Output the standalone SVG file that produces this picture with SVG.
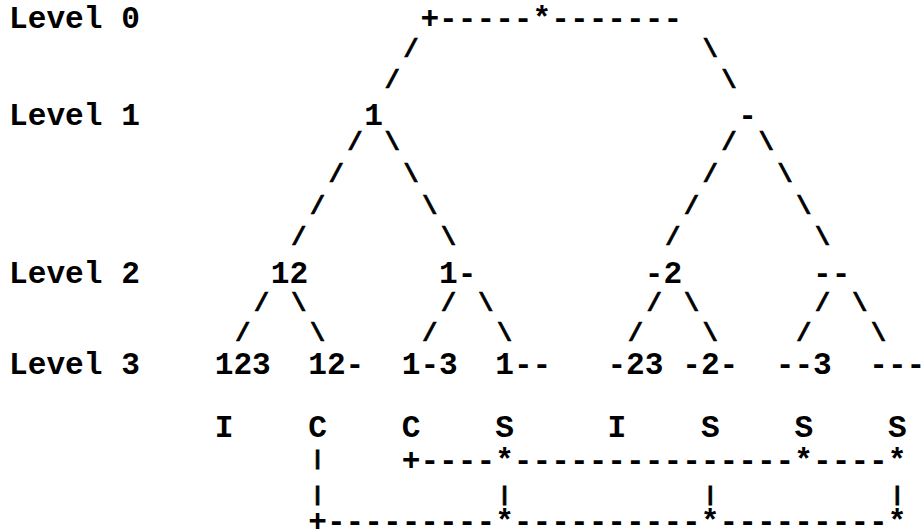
<svg xmlns="http://www.w3.org/2000/svg" width="921" height="532" viewBox="0 0 921 532">
<style>
  text { font-family: "Liberation Mono", "Courier New", monospace; font-size: 31.16px; font-weight: bold; fill: #000; white-space: pre; }
  .sl { font-size: 25px; text-anchor: middle; stroke: #000; stroke-width: 0.7px; }
  .pipe { font-size: 21px; text-anchor: middle; stroke: #000; stroke-width: 0.8px; }
</style>
<rect width="921" height="532" fill="#fff"/>
<g id="labels">
  <text id="lv0" x="9" y="28">Level 0</text>
  <text id="lv1" x="9" y="125">Level 1</text>
  <text id="lv2" x="9" y="283">Level 2</text>
  <text id="lv3" x="9" y="374">Level 3</text>
</g>
<g id="node-root"><text x="420.4" y="28">+-----*-------</text></g>
<g id="node-1"><text x="364.3" y="125">1</text></g>
<g id="node-dash"><text x="738.3" y="125">-</text></g>
<g id="node-12"><text x="270.8" y="283">12</text></g>
<g id="node-1d"><text x="439.1" y="283">1-</text></g>
<g id="node-d2"><text x="644.8" y="283">-2</text></g>
<g id="node-dd"><text x="813.1" y="283">--</text></g>
<g id="node-123"><text x="214.7" y="374">123</text></g>
<g id="node-12d"><text x="308.2" y="374">12-</text></g>
<g id="node-1d3"><text x="401.7" y="374">1-3</text></g>
<g id="node-1dd"><text x="495.2" y="374">1--</text></g>
<g id="node-d23"><text x="607.4" y="374">-23</text></g>
<g id="node-d2d"><text x="682.2" y="374">-2-</text></g>
<g id="node-dd3"><text x="775.7" y="374">--3</text></g>
<g id="node-ddd"><text x="869.2" y="374">---</text></g>
<g id="marks">
  <text x="214.7" y="437">I</text>
  <text x="308.2" y="437">C</text>
  <text x="401.7" y="437">C</text>
  <text x="495.2" y="437">S</text>
  <text x="607.4" y="437">I</text>
  <text x="700.9" y="437">S</text>
  <text x="794.4" y="437">S</text>
  <text x="887.9" y="437">S</text>
</g>
<g id="connectors">
  <text class="sl" x="411.05" y="56.5">/</text><text class="sl" x="710.25" y="56.5">\</text>
  <text class="sl" x="392.35" y="87.5">/</text><text class="sl" x="728.95" y="87.5">\</text>
  <text class="sl" x="354.95" y="150">/</text><text class="sl" x="392.35" y="150">\</text><text class="sl" x="728.95" y="150">/</text><text class="sl" x="766.35" y="150">\</text>
  <text class="sl" x="336.25" y="181.5">/</text><text class="sl" x="411.05" y="181.5">\</text><text class="sl" x="710.25" y="181.5">/</text><text class="sl" x="785.05" y="181.5">\</text>
  <text class="sl" x="317.55" y="213.5">/</text><text class="sl" x="429.75" y="213.5">\</text><text class="sl" x="691.55" y="213.5">/</text><text class="sl" x="803.75" y="213.5">\</text>
  <text class="sl" x="298.85" y="245">/</text><text class="sl" x="448.45" y="245">\</text><text class="sl" x="672.85" y="245">/</text><text class="sl" x="822.45" y="245">\</text>
  <text class="sl" x="261.45" y="311">/</text><text class="sl" x="298.85" y="311">\</text><text class="sl" x="448.45" y="311">/</text><text class="sl" x="485.85" y="311">\</text>
  <text class="sl" x="654.15" y="311">/</text><text class="sl" x="691.55" y="311">\</text><text class="sl" x="822.45" y="311">/</text><text class="sl" x="859.85" y="311">\</text>
  <text class="sl" x="242.75" y="341">/</text><text class="sl" x="317.55" y="341">\</text><text class="sl" x="429.75" y="341">/</text><text class="sl" x="504.55" y="341">\</text>
  <text class="sl" x="635.45" y="341">/</text><text class="sl" x="710.25" y="341">\</text><text class="sl" x="803.75" y="341">/</text><text class="sl" x="878.55" y="341">\</text>
  <text class="pipe" x="317.55" y="465">|</text>
  <text x="401.7" y="470">+----*---------------*----*</text>
  <text class="pipe" x="317.55" y="501">|</text><text class="pipe" x="504.55" y="501">|</text><text class="pipe" x="710.25" y="501">|</text><text class="pipe" x="897.25" y="501">|</text>
  <text x="308.2" y="531">+---------*----------*---------*</text>
</g>
</svg>
